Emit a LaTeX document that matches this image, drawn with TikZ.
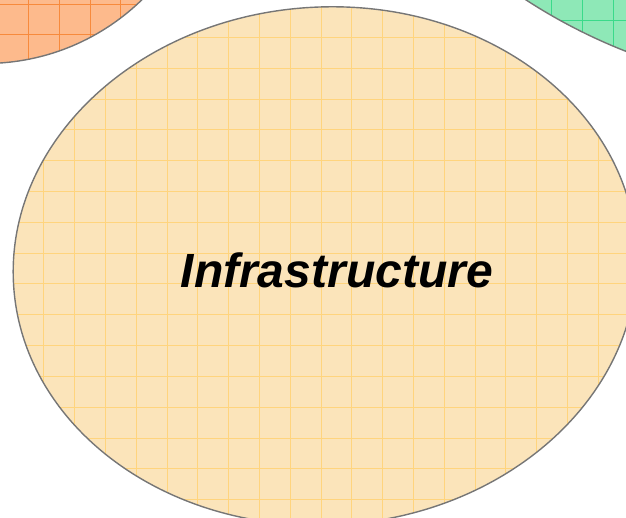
\documentclass[tikz,border=0pt]{standalone}
\usepackage{fontspec}
\setmainfont{Liberation Sans}
\definecolor{yfill}{RGB}{251,228,186}
\definecolor{ygrid}{RGB}{255,212,125}
\definecolor{ofill}{RGB}{253,186,140}
\definecolor{ogrid}{RGB}{247,138,60}
\definecolor{gfill}{RGB}{142,232,183}
\definecolor{ggrid}{RGB}{58,218,138}
\definecolor{edgegray}{RGB}{118,118,118}
\tikzset{
  rim/.style={draw=edgegray, line width=1.4pt},
  gridline/.style={line width=0.8pt},
  label/.style={font=\bfseries\itshape\fontsize{48}{58}\selectfont, inner sep=0pt}
}
\begin{document}
\begin{tikzpicture}[x=1pt,y=-1pt]
\useasboundingbox (0,0) rectangle (626,518);
\begin{scope}
\clip (0,0) rectangle (626,518);
% orange (top left)
\fill[ofill] (-15,-161.5) circle [radius=225];
\begin{scope}
\clip (-15,-161.5) circle [radius=225];
\foreach \i in {-1,...,5} \draw[ogrid,gridline] (28.3+30.8*\i,0) -- ++(0,80);
\foreach \i in {0,...,2} \draw[ogrid,gridline] (0,4+30.8*\i) -- ++(200,0);
\end{scope}
\draw[rim] (-15,-161.5) circle [radius=225];
% green (top right)
\fill[gfill] (831,-471) circle [radius=561];
\begin{scope}
\clip (831,-471) circle [radius=561];
\foreach \i in {-1,...,3} \draw[ggrid,gridline] (551.7+30.8*\i,0) -- ++(0,80);
\foreach \i in {0,...,1} \draw[ggrid,gridline] (480,20+30.8*\i) -- ++(160,0);
\end{scope}
\draw[rim] (831,-471) circle [radius=561];
% yellow (main)
\fill[yfill, rotate around={3.5:(325,266)}] (325,266) ellipse [x radius=312, y radius=259];
\begin{scope}
\clip[rotate around={3.5:(325,266)}] (325,266) ellipse [x radius=312, y radius=259];
\foreach \i in {-10,...,11} \draw[ygrid,gridline] (290.1+30.8*\i,0) -- ++(0,518);
\foreach \i in {-8,...,10} \draw[ygrid,gridline] (0,222.3+30.8*\i) -- ++(626,0);
\end{scope}
\draw[rim, rotate around={3.5:(325,266)}] (325,266) ellipse [x radius=312, y radius=259];
\end{scope}
\node[label, anchor=base] (infra) at (336.7,287.7) {Infrastructure};
\end{tikzpicture}
\end{document}
